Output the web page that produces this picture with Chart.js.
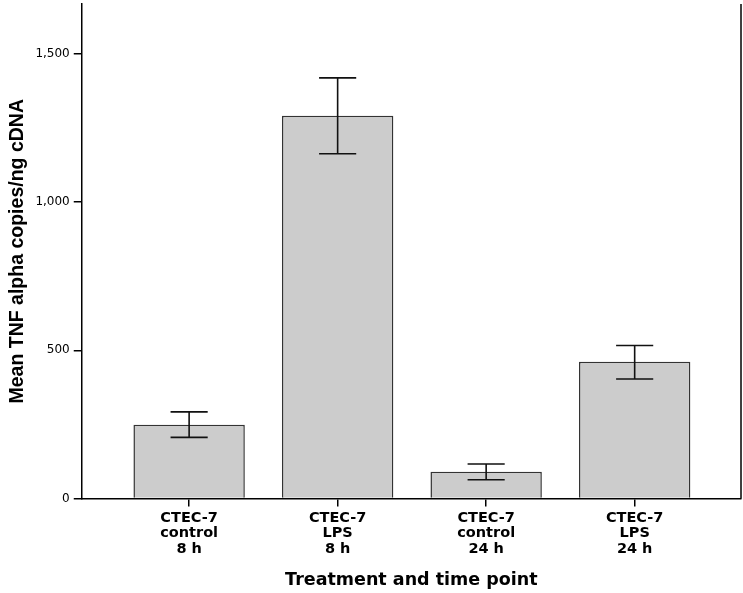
<!DOCTYPE html>
<html lang="en">
<head>
    <meta charset="UTF-8">
    <title>TNF alpha copies</title>
    <script src="https://cdn.jsdelivr.net/npm/chart.js"></script>
    <style>
        body {
            margin: 0;
            padding: 0;
            background: #fff;
        }
        #wrap {
            width: 743px;
            height: 593px;
        }
    </style>
</head>
<body>
    <div id="wrap"><canvas id="tnfChart"></canvas></div>

    <script>
        // data
        const categories = [
            ['CTEC-7', 'control', '8 h'],
            ['CTEC-7', 'LPS', '8 h'],
            ['CTEC-7', 'control', '24 h'],
            ['CTEC-7', 'LPS', '24 h']
        ];
        const meanValues = [249, 1291, 90, 461];
        const errLow = [206, 1163, 63, 403];
        const errHigh = [292, 1419, 116, 516];
        const yTicks = [0, 500, 1000, 1500];

        const sans = "'Liberation Sans', Arial, sans-serif";
        const wide = "'DejaVu Sans', Verdana, sans-serif";

        // error bars drawn through the chart scales
        const errorBars = {
            id: 'errorBars',
            afterDatasetsDraw(chart) {
                const { ctx, scales: { x, y } } = chart;
                ctx.save();
                ctx.strokeStyle = '#111';
                ctx.lineWidth = 1.6;
                meanValues.forEach((v, i) => {
                    const cx = x.getPixelForValue(i + 1);
                    const cap = (x.getPixelForValue(2) - x.getPixelForValue(1)) * 0.125;
                    const top = y.getPixelForValue(errHigh[i]);
                    const bot = y.getPixelForValue(errLow[i]);
                    ctx.beginPath();
                    ctx.moveTo(cx, top); ctx.lineTo(cx, bot);
                    ctx.moveTo(cx - cap, top); ctx.lineTo(cx + cap, top);
                    ctx.moveTo(cx - cap, bot); ctx.lineTo(cx + cap, bot);
                    ctx.stroke();
                });
                // right frame line
                const a = chart.chartArea;
                ctx.strokeStyle = '#000';
                ctx.lineWidth = 1.5;
                ctx.beginPath();
                ctx.moveTo(a.right, a.top);
                ctx.lineTo(a.right, a.bottom);
                ctx.stroke();
                ctx.restore();
            }
        };

        const ctx = document.getElementById('tnfChart').getContext('2d');
        const tnfChart = new Chart(ctx, {
            type: 'bar',
            data: {
                datasets: [{
                    data: meanValues.map((v, i) => ({ x: i + 1, y: v })),
                    backgroundColor: '#cccccc',
                    borderColor: '#333',
                    borderWidth: 1.5,
                    borderSkipped: 'bottom',
                    barPercentage: 0.75,
                    categoryPercentage: 1
                }]
            },
            options: {
                responsive: true,
                maintainAspectRatio: false,
                animation: false,
                layout: { padding: { top: 0, right: 2, left: 0, bottom: 2.5 } },
                plugins: {
                    legend: { display: false },
                    tooltip: { enabled: false }
                },
                scales: {
                    x: {
                        type: 'linear',
                        offset: false,
                        min: 0.277,
                        max: 4.716,
                        afterBuildTicks: axis => {
                            axis.ticks = categories.map((c, i) => ({ value: i + 1 }));
                        },
                        ticks: {
                            color: '#000',
                            maxRotation: 0,
                            padding: 4,
                            font: { family: wide, size: 14.5, weight: 'bold', lineHeight: 1.07 },
                            callback: v => categories[v - 1]
                        },
                        grid: {
                            offset: false,
                            drawOnChartArea: false,
                            color: '#000',
                            lineWidth: 1.5,
                            tickLength: 8
                        },
                        border: { color: '#000', width: 1.5 },
                        title: {
                            display: true,
                            text: 'Treatment and time point',
                            color: '#000',
                            font: { family: wide, size: 17.5, weight: 'bold' },
                            padding: { top: 8.5, bottom: 0 }
                        }
                    },
                    y: {
                        min: 0,
                        max: 1668,
                        afterBuildTicks: axis => {
                            axis.ticks = yTicks.map(v => ({ value: v }));
                        },
                        ticks: {
                            color: '#000',
                            padding: 4,
                            font: { family: wide, size: 12, lineHeight: 0.01 },
                            callback: v => v.toLocaleString('en-US')
                        },
                        grid: {
                            drawOnChartArea: false,
                            color: '#000',
                            lineWidth: 1.5,
                            tickLength: 8
                        },
                        border: { color: '#000', width: 1.5 },
                        title: {
                            display: true,
                            text: 'Mean TNF alpha copies/ng cDNA',
                            color: '#000',
                            font: { family: sans, size: 19.5, weight: 'bold' },
                            padding: { top: 6, bottom: 2 }
                        }
                    }
                }
            },
            plugins: [errorBars]
        });
    </script>
</body>
</html>
